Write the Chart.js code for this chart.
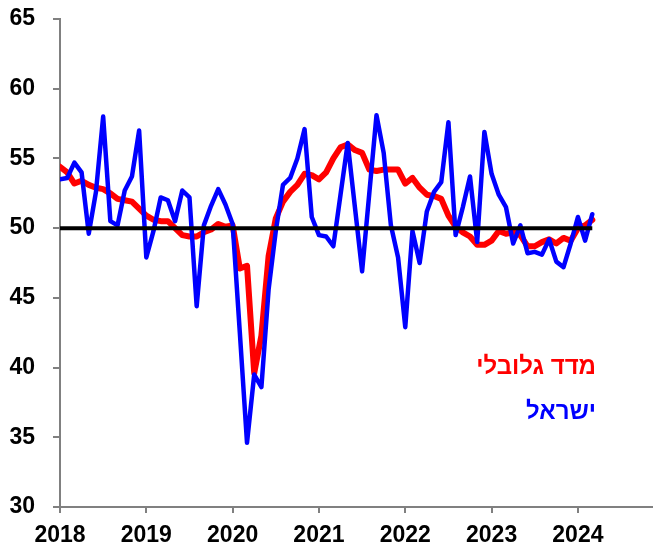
<!DOCTYPE html>
<html>
<head>
<meta charset="utf-8">
<script src="https://cdn.jsdelivr.net/npm/chart.js@4"></script>
<style>
  body { margin: 0; background: #fff; }
  canvas { display: block; }
</style>
</head>
<body>
<canvas id="pmiChart" width="653" height="547"></canvas>
<script>
// monthly series, Jan 2018 .. Mar 2024
const startYear = 2018;
const yearTicks = [2018, 2019, 2020, 2021, 2022, 2023, 2024];
const yTicks = [30, 35, 40, 45, 50, 55, 60, 65];

const globalIndex = [
    54.4, 54.0, 53.2, 53.4, 53.1, 52.9, 52.8, 52.5, 52.1, 52.0, 51.9, 51.4,
    50.9, 50.6, 50.5, 50.5, 50.0, 49.5, 49.4, 49.4, 49.7, 49.9, 50.3, 50.1,
    50.2, 47.1, 47.3, 39.6, 42.3, 48.0, 50.7, 51.9, 52.6, 53.1, 53.9, 53.8,
    53.5, 54.0, 55.0, 55.8, 56.0, 55.6, 55.4, 54.2, 54.1, 54.2, 54.2, 54.2,
    53.2, 53.6, 52.9, 52.4, 52.3, 52.1, 50.9, 50.1, 49.7, 49.4, 48.8, 48.8,
    49.1, 49.8, 49.6, 49.7, 49.5, 48.7, 48.7, 49.0, 49.2, 48.9, 49.3, 49.1,
    50.0, 50.2, 50.6
];

const israel = [
    53.5, 53.6, 54.7, 54.0, 49.6, 52.6, 58.0, 50.5, 50.2, 52.7, 53.7, 57.0,
    47.9, 49.8, 52.2, 52.0, 50.5, 52.7, 52.2, 44.4, 50.2, 51.6, 52.8, 51.7,
    50.3, 42.5, 34.6, 39.5, 38.6, 45.6, 49.8, 53.1, 53.6, 55.0, 57.1, 50.8,
    49.5, 49.4, 48.7, 52.4, 56.1, 51.5, 46.9, 52.5, 58.1, 55.4, 50.2, 47.9,
    42.9, 49.8, 47.5, 51.2, 52.6, 53.3, 57.6, 49.5, 51.5, 53.7, 49.0, 56.9,
    53.9, 52.4, 51.5, 48.9, 50.2, 48.2, 48.3, 48.1, 49.2, 47.6, 47.2, 48.9,
    50.8, 49.1, 51.0
];

const baseline = israel.map(() => 50);

const seriesNames = ['מדד גלובלי', 'ישראל'];

function toPoints(values) {
    return values.map((v, i) => ({ x: startYear + i / 12, y: v }));
}

// hebrew labels inside the plot, placed through the scales
const labelPos = [
    { x: 2024.21, y: 40.0, color: '#ff0000' },
    { x: 2024.21, y: 36.8, color: '#0000ff' }
];

const textLabels = {
    id: 'textLabels',
    afterDatasetsDraw(chart) {
        const ctx = chart.ctx;
        const xs = chart.scales.x;
        const ys = chart.scales.y;
        ctx.save();
        ctx.font = 'bold 24px "Liberation Sans", Arial, sans-serif';
        ctx.textAlign = 'right';
        ctx.textBaseline = 'middle';
        labelPos.forEach((p, i) => {
            ctx.fillStyle = p.color;
            ctx.fillText(seriesNames[i], xs.getPixelForValue(p.x), ys.getPixelForValue(p.y));
        });
        ctx.restore();
    }
};

const ctx = document.getElementById('pmiChart');

new Chart(ctx, {
    type: 'line',
    data: {
        datasets: [
            {
                label: 'קו 50',
                data: toPoints(baseline),
                borderColor: '#000000',
                borderWidth: 4,
                pointRadius: 0,
                order: 0
            },
            {
                label: seriesNames[1],
                data: toPoints(israel),
                borderColor: '#0000ff',
                borderWidth: 4.5,
                pointRadius: 0,
                borderJoinStyle: 'round',
                borderCapStyle: 'round',
                order: 1
            },
            {
                label: seriesNames[0],
                data: toPoints(globalIndex),
                borderColor: '#ff0000',
                borderWidth: 6,
                pointRadius: 0,
                borderJoinStyle: 'round',
                borderCapStyle: 'round',
                order: 2
            }
        ]
    },
    options: {
        responsive: false,
        animation: false,
        layout: { padding: { top: 19, right: 0, left: 0, bottom: 0 } },
        plugins: {
            legend: { display: false },
            tooltip: { enabled: false }
        },
        scales: {
            x: {
                type: 'linear',
                min: 2018,
                max: 2024.87,
                afterBuildTicks: (scale) => {
                    scale.ticks = yearTicks.map(v => ({ value: v }));
                },
                afterFit: (scale) => {
                    scale.height = 40;
                    scale.paddingLeft = 0;
                    scale.paddingRight = 0;
                },
                border: { color: '#808080', width: 2 },
                grid: {
                    drawOnChartArea: false,
                    color: '#808080',
                    lineWidth: 2,
                    tickLength: 6
                },
                ticks: {
                    color: '#000000',
                    padding: 9,
                    maxRotation: 0,
                    font: { family: '"Liberation Sans", Arial, sans-serif', size: 23, weight: 'bold' },
                    callback: (v) => String(v)
                }
            },
            y: {
                min: 30,
                max: 65,
                afterBuildTicks: (scale) => {
                    scale.ticks = yTicks.map(v => ({ value: v }));
                },
                afterFit: (scale) => {
                    scale.width = 60;
                    scale.paddingTop = 0;
                    scale.paddingBottom = 0;
                },
                border: { color: '#808080', width: 2 },
                grid: {
                    drawOnChartArea: false,
                    color: '#808080',
                    lineWidth: 2,
                    tickLength: 7
                },
                ticks: {
                    color: '#000000',
                    padding: 18,
                    font: { family: '"Liberation Sans", Arial, sans-serif', size: 23, weight: 'bold' }
                }
            }
        }
    },
    plugins: [textLabels]
});
</script>
</body>
</html>
